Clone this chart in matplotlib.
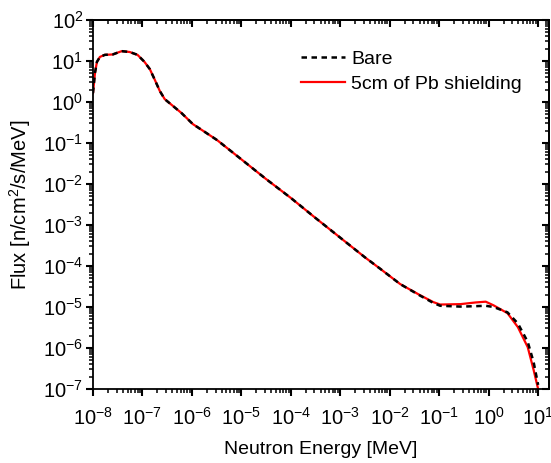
import numpy as np
import matplotlib
matplotlib.use("Agg")
import matplotlib.pyplot as plt
from matplotlib.ticker import LogLocator, NullFormatter, LogFormatterSciNotation

plt.rcParams['font.family'] = ['Liberation Sans', 'DejaVu Sans']
plt.rcParams['mathtext.fontset'] = 'custom'
plt.rcParams['mathtext.rm'] = 'Liberation Sans'
plt.rcParams['mathtext.it'] = 'Liberation Sans'

## Data (log10 units) ##

# 5cm of Pb shielding (red)
log_e_pb = [-8.0, -7.96, -7.92, -7.86, -7.76, -7.60, -7.42, -7.26, -7.10, -6.96,
            -6.85, -6.75, -6.65, -6.55, -6.41, -6.21, -5.98, -5.74, -5.49, -5.03,
            -4.5, -4.0, -3.5, -3.0, -2.5, -2.19, -1.79, -1.39, -1.12, -0.98,
            -0.57, -0.27, -0.06, 0.10, 0.38, 0.59, 0.79, 0.91, 1.0]
log_f_pb = [0.22, 0.71, 0.98, 1.10, 1.15, 1.16, 1.24, 1.22, 1.15, 0.98,
            0.80, 0.54, 0.27, 0.07, -0.07, -0.27, -0.54, -0.73, -0.93, -1.37,
            -1.88, -2.34, -2.83, -3.31, -3.79, -4.07, -4.44, -4.71, -4.88, -4.94,
            -4.93, -4.89, -4.87, -4.96, -5.15, -5.49, -5.98, -6.54, -7.0]

# Bare (black dashed)
log_e_bare = [-8.0, -7.96, -7.92, -7.86, -7.76, -7.60, -7.42, -7.26, -7.10, -6.96,
              -6.85, -6.75, -6.65, -6.55, -6.41, -6.21, -5.98, -5.74, -5.49, -5.03,
              -4.5, -4.0, -3.5, -3.0, -2.5, -2.19, -1.79, -1.39, -1.12, -0.98,
              -0.57, -0.27, -0.06, 0.10, 0.38, 0.59, 0.79, 0.91, 1.0]
log_f_bare = [0.22, 0.71, 0.98, 1.10, 1.15, 1.16, 1.24, 1.22, 1.15, 0.98,
              0.80, 0.54, 0.27, 0.07, -0.07, -0.27, -0.54, -0.73, -0.93, -1.37,
              -1.88, -2.34, -2.83, -3.31, -3.79, -4.07, -4.44, -4.72, -4.90, -4.97,
              -4.99, -4.98, -4.97, -5.00, -5.13, -5.40, -5.85, -6.35, -6.9]

e_pb = 10.0 ** np.array(log_e_pb)
f_pb = 10.0 ** np.array(log_f_pb)
e_bare = 10.0 ** np.array(log_e_bare)
f_bare = 10.0 ** np.array(log_f_bare)

## Plot ##

fig = plt.figure(figsize=(5.51, 4.63), dpi=100)
ax = fig.add_axes([93/551, 1 - 389/463, (549 - 93)/551, (389 - 20)/463])

l_pb, = ax.plot(e_pb, f_pb, color='red', lw=1.6, zorder=2, label='5cm of Pb shielding')
l_bare, = ax.plot(e_bare, f_bare, color='black', lw=1.8, ls=(0, (2.2, 1.8)), zorder=3, label='Bare')

ax.set_xscale('log')
ax.set_yscale('log')
ax.set_xlim(1e-8, 10 ** 1.22)
ax.set_ylim(1e-7, 1e2)

ax.yaxis.set_major_locator(LogLocator(base=10, numticks=20))
ax.xaxis.set_minor_locator(LogLocator(base=10, subs=np.arange(2, 10), numticks=20))
ax.yaxis.set_minor_locator(LogLocator(base=10, subs=np.arange(2, 10), numticks=20))
ax.xaxis.set_minor_formatter(NullFormatter())
ax.yaxis.set_minor_formatter(NullFormatter())

# only label up to 10^1
ax.set_xticks([10.0 ** k for k in range(-8, 2)])
ax.xaxis.set_major_formatter(LogFormatterSciNotation())

for s in ax.spines.values():
    s.set_linewidth(1.3)

ax.tick_params(which='major', direction='out', length=5, width=1.5, labelsize=14.5, pad=8)
ax.tick_params(which='minor', direction='out', length=3, width=1.1)
ax.tick_params(axis='y', which='major', pad=2)

# mirrored axes, ticks inward, no labels
top = ax.secondary_xaxis('top')
top.set_xticks([10.0 ** k for k in range(-8, 2)])
top.xaxis.set_minor_locator(LogLocator(base=10, subs=np.arange(2, 10), numticks=20))
top.tick_params(which='major', direction='in', length=5, width=1.5, labeltop=False)
top.tick_params(which='minor', direction='in', length=3, width=1.1)
top.spines['top'].set_linewidth(1.3)

right = ax.secondary_yaxis('right')
right.set_yticks([10.0 ** k for k in range(-7, 3)])
right.yaxis.set_minor_locator(LogLocator(base=10, subs=np.arange(2, 10), numticks=20))
right.tick_params(which='major', direction='in', length=5, width=1.5, labelright=False)
right.tick_params(which='minor', direction='in', length=3, width=1.1)
right.spines['right'].set_linewidth(1.3)

ax.set_xlabel('Neutron Energy [MeV]', fontsize=14, labelpad=9)
ax.set_ylabel('Flux [n/cm$^2$/s/MeV]', fontsize=14.5, labelpad=7)

ax.legend(handles=[l_bare, l_pb], loc='upper left', bbox_to_anchor=(0.43, 0.95),
          frameon=False, fontsize=14, handlelength=2.3, handletextpad=0.3,
          labelspacing=0.4, borderaxespad=0.2)

fig.savefig('out.png', dpi=100)
